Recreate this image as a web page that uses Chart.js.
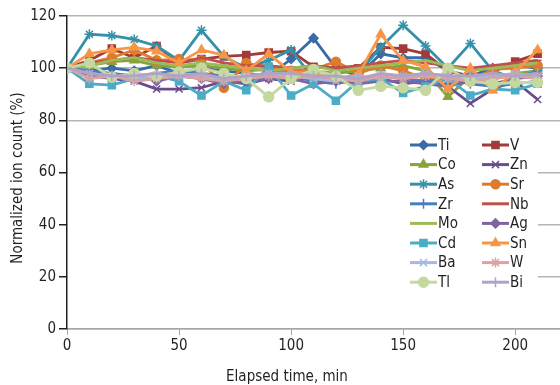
<!DOCTYPE html>
<html>
<head>
<meta charset="utf-8">
<script src="https://cdn.jsdelivr.net/npm/chart.js@4.4.1/dist/chart.umd.min.js"></script>
<style>
  html, body { margin: 0; padding: 0; background: #fff; }
  #wrap { width: 560px; height: 385px; }
</style>
</head>
<body>
<div id="wrap"><canvas id="ionChart" width="560" height="385"></canvas></div>
<script>
// elapsed time, min
const times = [0, 10, 20, 30, 40, 50, 60, 70, 80, 90, 100, 110, 120, 130, 140, 150, 160, 170, 180, 190, 200, 210];
const xTicks = [0, 50, 100, 150, 200];
const yTicks = [0, 20, 40, 60, 80, 100, 120];

// normalized ion count (%)
const ti = [100, 99, 100, 99, 101, 98, 100, 99, 98, 97, 103.5, 111.5, 100, 97, 105.5, 104, 104, 99, 97, 100, 101, 100];
const v  = [100, 103, 107.5, 104, 108.5, 102, 103.5, 104.5, 105, 106, 106.5, 100.5, 100, 100, 108, 107.5, 105.5, 99, 96.5, 98.5, 102.5, 105.5];
const co = [100, 101, 102.5, 103, 101, 100.5, 101, 100, 99, 99.5, 98, 99, 98, 99, 100, 101, 99, 89, 97, 96.5, 98, 99];
const zn = [100, 98, 96, 95, 92, 92, 92.5, 95, 94, 96, 95, 97, 96, 95, 96, 94, 95, 93, 86.5, 92, 95, 88];
const as = [100, 113, 112.5, 111, 108.5, 103, 114.5, 104.5, 100, 103, 107, 96, 95, 98, 108, 116.5, 108.5, 100, 109.5, 99, 96, 99];
const sr = [100, 102, 104, 107, 103, 103.5, 103, 92.5, 102, 100, 99, 99.5, 102.5, 98, 101, 99, 96, 97, 95, 99.5, 100, 101];
const zr = [100, 99, 98, 97, 98, 99, 98, 97, 96, 98, 97, 95, 94, 96, 97, 96, 95, 96, 94, 93, 94, 95];
const nb = [100, 102, 103, 104, 103, 102, 104, 102, 101, 101, 100, 101, 100, 101, 102, 103, 102, 101, 100, 101, 102, 103];
const mo = [100, 101, 103, 104, 102, 101, 102, 101, 100, 99, 100, 101, 99, 100, 101, 102, 103, 101, 99, 100, 101, 102];
const ag = [100, 97, 96, 98, 95, 97, 96, 94, 95, 96, 96, 94, 95, 94, 95, 95, 94, 93, 95, 94, 96, 97];
const cd = [100, 94, 93.5, 96, 97, 95, 89.5, 95, 91.5, 100.5, 89.5, 94, 87.5, 95, 96, 90.5, 93, 96, 89.5, 92, 91.5, 94];
const sn = [100, 105.5, 107, 108, 106.5, 102, 107, 105, 99, 105.5, 98.5, 98, 96, 97.5, 113, 103, 100.5, 92, 100, 91.5, 98.5, 107];
const ba = [100, 98, 97, 96, 97, 98, 97, 96, 97, 98, 97, 96, 95, 97, 96, 97, 98, 97, 96, 97, 98, 97];
const w  = [100, 96, 97, 95, 96, 97, 96, 95, 96, 97, 96, 97, 96, 95, 97, 96, 97, 96, 95, 96, 97, 96];
const tl = [100, 102, 96.5, 98, 97, 98.5, 100, 98, 96, 89, 96, 99.5, 97, 91.5, 93, 92.5, 91.5, 100, 95, 94, 94.5, 94.5];
const bi = [100, 98, 97, 97, 98, 97, 98, 96, 97, 98, 98, 97, 97, 96, 98, 97, 98, 97, 97, 98, 97, 98];

const FONT = "'Liberation Sans Narrow', 'DejaVu Sans Condensed', 'Roboto Condensed', sans-serif";
const TEXT = '#231f20';

// name, values, colour, marker, marker radius
const seriesDefs = [
  ['Ti', ti, '#3b6ba6', 'rectRot', 4.5],
  ['V',  v,  '#a13b3a', 'rect', 5],
  ['Co', co, '#86a43c', 'triangle', 5],
  ['Zn', zn, '#6a4c8c', 'crossRot', 5],
  ['As', as, '#3591a9', 'star', 5],
  ['Sr', sr, '#dc7c2c', 'circle', 4.5],
  ['Zr', zr, '#4a7ec0', 'cross', 5],
  ['Nb', nb, '#c0504d', 'line', 4],
  ['Mo', mo, '#9bbb59', 'circle', 0],
  ['Ag', ag, '#8064a2', 'rectRot', 4.5],
  ['Cd', cd, '#4bacc6', 'rect', 5],
  ['Sn', sn, '#f79646', 'triangle', 5],
  ['Ba', ba, '#a5b9df', 'crossRot', 5],
  ['W',  w,  '#d9a3a2', 'star', 5],
  ['Tl', tl, '#c4d8a0', 'circle', 5],
  ['Bi', bi, '#b3a2c7', 'cross', 5]
];

const datasets = seriesDefs.map(([name, vals, color, marker, r], i) => ({
  label: name,
  data: times.map((t, k) => ({ x: t, y: vals[k] })),
  borderColor: color,
  backgroundColor: color,
  borderWidth: 2.8,
  pointStyle: marker,
  pointRadius: r,
  pointBorderWidth: 1.5,
  pointBackgroundColor: color,
  pointBorderColor: color,
  tension: 0,
  order: seriesDefs.length - i // later series on top, like the original
}));

// white legend box (hides the lower gridlines), legend entries and axis titles
const decorPlugin = {
  id: 'decor',
  beforeDatasetsDraw(chart) {
    const { ctx, chartArea, scales } = chart;
    const top = scales.y.getPixelForValue(78);
    const bottom = scales.y.getPixelForValue(1);
    ctx.save();
    ctx.fillStyle = '#fff';
    ctx.fillRect(chartArea.left + 1, top, 538 - chartArea.left - 1, bottom - top);
    ctx.restore();
  },
  afterDraw(chart) {
    const ctx = chart.ctx;
    ctx.save();
    ctx.font = '15px ' + FONT;
    ctx.textBaseline = 'middle';

    seriesDefs.forEach(([name, vals, color, marker, r], i) => {
      const col = i % 2;
      const row = Math.floor(i / 2);
      const x0 = col ? 482 : 410;
      const x1 = x0 + 27;
      const y = 145 + row * 19.6;
      ctx.strokeStyle = color;
      ctx.lineWidth = 3;
      ctx.beginPath();
      ctx.moveTo(x0, y);
      ctx.lineTo(x1, y);
      ctx.stroke();
      if (r > 0) {
        ctx.fillStyle = color;
        ctx.lineWidth = 1.5;
        Chart.helpers.drawPoint(ctx, { pointStyle: marker, radius: r, rotation: 0, borderWidth: 1.5 }, (x0 + x1) / 2, y);
      }
      ctx.fillStyle = TEXT;
      ctx.textAlign = 'left';
      ctx.fillText(name, x1 + 1, y + 1);
    });

    // axis titles
    ctx.fillStyle = TEXT;
    ctx.textAlign = 'center';
    ctx.fillText('Elapsed time, min', 287, 377);
    ctx.translate(18, 178);
    ctx.rotate(-Math.PI / 2);
    ctx.fillText('Normalized ion count (%)', 0, 0);
    ctx.restore();
  }
};

new Chart(document.getElementById('ionChart'), {
  type: 'line',
  data: { datasets: datasets },
  options: {
    responsive: false,
    animation: false,
    layout: { autoPadding: false, padding: { top: 16, right: 0, left: 0, bottom: 0 } },
    plugins: {
      legend: { display: false },
      tooltip: { enabled: false }
    },
    scales: {
      x: {
        type: 'linear',
        min: 0,
        max: 220,
        afterBuildTicks: (scale) => { scale.ticks = xTicks.map(value => ({ value })); },
        afterFit: (scale) => { scale.height = 56; },
        grid: {
          drawOnChartArea: false,
          drawTicks: true,
          tickLength: 6,
          color: '#a6a6a6'
        },
        border: { display: true, color: '#a6a6a6', width: 1.5 },
        ticks: { color: TEXT, font: { family: FONT, size: 15 }, padding: 2, maxRotation: 0 }
      },
      y: {
        min: 0,
        max: 120,
        afterBuildTicks: (scale) => { scale.ticks = yTicks.map(value => ({ value })); },
        afterFit: (scale) => { scale.width = 67; },
        grid: {
          color: '#b5b5b5',
          lineWidth: 1.5,
          drawTicks: true,
          tickLength: 8,
          tickColor: TEXT
        },
        border: { display: true, color: TEXT, width: 1.5 },
        ticks: { color: TEXT, font: { family: FONT, size: 15 }, padding: 3 }
      }
    }
  },
  plugins: [decorPlugin]
});
</script>
</body>
</html>
